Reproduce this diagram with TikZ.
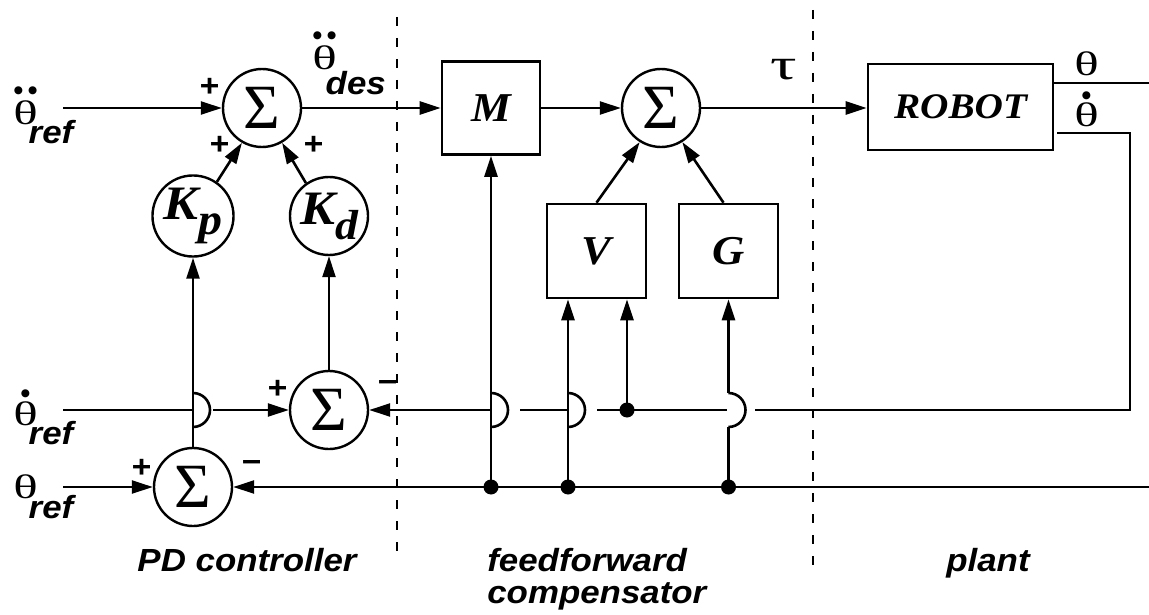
\documentclass[tikz,border=0pt]{standalone}
\usepackage{fontspec}
\setmainfont{Liberation Serif}
\newfontfamily\labf[FakeStretch=1.09]{Liberation Sans}
\newfontfamily\thf[FakeStretch=1.5]{Liberation Serif}
\newfontfamily\blkf[FakeStretch=1.09]{Liberation Serif}
\newfontfamily\dotf{DejaVu Sans}
\usetikzlibrary{arrows.meta,calc}

\newcommand\thsym{{\thf\fontsize{34}{34}\selectfont θ}}
\newcommand\accth[2]{\setbox0\hbox{\thsym}\rlap{\hbox to\wd0{\hss\raisebox{#1}{\dotf\fontsize{10.5}{10.5}\selectfont #2}\hss}}\box0}
\newcommand\lab[1]{{\labf\bfseries\itshape\fontsize{32}{32}\selectfont #1}}

\tikzset{
  every path/.style={line width=2.6pt},
  arr/.style={-{Triangle[length=21pt,width=13pt]}},
  sumc/.style={circle, draw, line width=2.4pt, minimum size=78pt, inner sep=0pt,
               font=\fontsize{63}{63}\selectfont},
  gainc/.style={circle, draw, line width=2.4pt, minimum size=78pt, inner sep=0pt,
               font=\blkf\bfseries\itshape\fontsize{48}{48}\selectfont},
  blk/.style={draw, rectangle, line width=2.6pt, inner sep=0pt,
               font=\blkf\bfseries\itshape\fontsize{41}{41}\selectfont},
  pm/.style={inner sep=0pt, font=\labf\bfseries\itshape\fontsize{31}{31}\selectfont},
  txt/.style={inner sep=0pt},
  dashline/.style={line width=2.4pt, dash pattern=on 9pt off 12pt},
}

\begin{document}
\begin{tikzpicture}[x=1pt, y=-1pt]
\useasboundingbox (0,0) rectangle (1149,615);

% dashed separators
\draw[dashline] (397,17) -- (397,560);
\draw[dashline] (813,10) -- (813,576);

% nodes
\node[sumc] (S1) at (262,108) {Σ};
\node[gainc] (Kp) at (193,216) {K\raisebox{-15pt}{\fontsize{44}{44}\selectfont p}};
\node[gainc] (Kd) at (329,216) {K\raisebox{-15pt}{\fontsize{42}{42}\selectfont d}};
\node[sumc] (S3) at (329,410) {Σ};
\node[sumc] (S4) at (193,487) {Σ};
\node[blk, minimum width=98pt, minimum height=93pt] (M) at (491,108) {M};
\node[sumc] (S2) at (661,108) {Σ};
\node[blk, minimum width=99pt, minimum height=94pt] (V) at (596.5,251) {V};
\node[blk, minimum width=99pt, minimum height=94pt] (G) at (728.5,251) {G};
\node[blk, minimum width=185pt, minimum height=86pt,
      font=\blkf\bfseries\itshape\fontsize{36}{36}\selectfont] (R) at (960.5,107) {ROBOT};

% text labels
\node[txt, anchor=base west] (ddthref) at (12,125) {\accth{31pt}{●\kern5pt●}\kern-9pt\raisebox{-19pt}{\lab{ref}}};
\node[txt, anchor=base west] (dthref) at (12,425) {\accth{29pt}{●}\kern-9pt\raisebox{-19pt}{\lab{ref}}};
\node[txt, anchor=base west] (thref) at (12,498) {\thsym\kern-9pt\raisebox{-20pt}{\lab{ref}}};
\node[txt, anchor=base west] (ddthdes) at (311,70) {\accth{31pt}{●\kern5pt●}\kern-11pt\raisebox{-25pt}{\lab{des}}};
\node[txt] (tau) at (784,70) {\thf\fontsize{44}{44}\selectfont τ};
\node[txt, anchor=base west] (thout) at (1073,76) {\thsym};
\node[txt, anchor=base west] (dthout) at (1073,127) {\accth{28pt}{●}};

\node[pm] (p1) at (209,87) {+};
\node[pm] (p2) at (219,145) {+};
\node[pm] (p3) at (313,145) {+};
\node[pm] (p4) at (277,389) {+};
\node[pm] (m1) at (387,386) {−};
\node[pm] (p5) at (141,468) {+};
\node[pm] (m2) at (251,466) {−};

\node[txt, anchor=base] (pd) at (247,571) {\lab{PD controller}};
\node[txt, anchor=base west] (ff1) at (486,571) {\lab{feedforward}};
\node[txt, anchor=base west] (ff2) at (486,603) {\lab{compensator}};
\node[txt, anchor=base west] (pl) at (945,571) {\lab{plant}};

% coordinates
\coordinate (inA) at (63,108);
\coordinate (inB) at (63,410);
\coordinate (inC) at (63,487);
\coordinate (thR) at (1149,83);
\coordinate (tdA) at (1057,133);
\coordinate (tdB) at (1130,133);
\coordinate (fbC) at (1130,410);
\coordinate (fbR) at (1149,487);
\coordinate (dM) at (M.south |- fbR);
\coordinate (dV) at (568,487);
\coordinate (dG) at (G.south |- fbR);
\coordinate (dV2) at (627,410);
\coordinate (h1) at (M.south |- fbC);
\coordinate (h2) at (dV |- fbC);
\coordinate (h3) at (G.south |- fbC);
\coordinate (hL) at (S4.north |- fbC);

% forward path
\draw[arr] (inA) -- (S1.west);
\draw[arr] (S1.east) -- (M.west);
\draw[arr] (M.east) -- (S2.west);
\draw[arr] (S2.east) -- (S2.east -| R.west);
\draw (thR -| R.east) -- (thR);

\draw[arr] (Kp.55) -- (S1.240);
\draw[arr] (Kd.125) -- (S1.300);
\draw[arr] (V.north) -- (S2.238);
\draw[arr] ([xshift=-5pt]G.north) -- (S2.302);
\draw[arr] (S4.north) -- (Kp.south);
\draw[arr] (S3.north) -- (Kd.south);

% reference inputs
\draw[arr] (inC) -- (S4.west);
\draw (inB) -- (hL);
\draw ([yshift=17pt]hL) arc[start angle=-90, end angle=90, radius=17];
\draw[arr] ([xshift=20pt]hL) -- (S3.west);

% theta feedback
\draw[arr] (fbR) -- (S4.east);
\fill (dM) circle[radius=7.5];
\fill (dV) circle[radius=7.5];
\fill (dG) circle[radius=7.5];
\draw[arr] (dM) -- (M.south);
\draw[arr] (dV) -- (dV |- V.south);
\draw (dG) -- ([yshift=-17pt]h3);
\draw[arr] ([yshift=17pt]h3) -- (G.south);

% theta-dot feedback
\draw (tdA) -- (tdB) -- (fbC) -- ([xshift=26pt]h3);
\draw ([yshift=17pt]h3) arc[start angle=-90, end angle=90, radius=17];
\draw ([xshift=29pt]h2) -- ([xshift=-2pt]h3);
\fill (dV2) circle[radius=7.5];
\draw[arr] (dV2) -- (dV2 |- V.south);
\draw ([yshift=17pt]h2) arc[start angle=-90, end angle=90, radius=17];
\draw ([xshift=29pt]h1) -- (h2);
\draw ([yshift=17pt]h1) arc[start angle=-90, end angle=90, radius=17];
\draw[arr] (h1) -- (S3.east);
\end{tikzpicture}
\end{document}
